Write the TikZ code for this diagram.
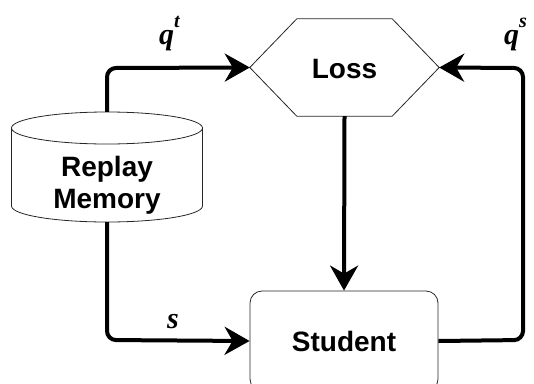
\documentclass[tikz,border=0pt]{standalone}
\usepackage{fontspec}
\setmainfont{Liberation Sans}
\newfontfamily\lblserif{Liberation Serif}
\usetikzlibrary{arrows.meta,calc}
\newcommand{\mysup}[1]{\raisebox{17pt}{\fontsize{20}{20}\selectfont #1}}
\tikzset{
  flow/.style={line width=4pt, rounded corners=9pt, -{Stealth[length=25pt,width=28pt,inset=8pt]}},
  border/.style={draw=black!85, line width=0.8pt},
  lbl/.style={font=\fontsize{28}{32}\selectfont\bfseries},
  mlbl/.style={font=\fontsize{30}{34}\selectfont\lblserif\bfseries\itshape, inner sep=0pt, anchor=base west},
}
\begin{document}
\begin{tikzpicture}[x=1pt,y=-1pt]
\useasboundingbox (0,0) rectangle (534,383);
\clip (0,0) rectangle (534,383);
% Loss hexagon
\node[minimum width=189pt, minimum height=97pt, inner sep=0pt] (loss) at (344.5,67.5) {};
\draw[border] (loss.west) -- ($(loss.north west)+(47,0)$) -- ($(loss.north east)+(-47,0)$) -- (loss.east) -- ($(loss.south east)+(-47,0)$) -- ($(loss.south west)+(47,0)$) -- cycle;
\node[lbl] (losstxt) at (344.5,69) {Loss};
% Replay memory cylinder
\node[minimum width=191pt, minimum height=110pt, inner sep=0pt] (mem) at (107,167) {};
\draw[border] (11.5,128) arc[start angle=180,end angle=360,x radius=95.5,y radius=16] -- (202.5,206) arc[start angle=0,end angle=180,x radius=95.5,y radius=16] -- cycle;
\draw[border] (11.5,128) arc[start angle=180,end angle=0,x radius=95.5,y radius=16];
\node[lbl, align=center, inner sep=0pt] (memtxt) at (107,185) {Replay\\Memory};
% Student
\node[border, rounded corners=12pt, minimum width=188pt, minimum height=100pt, inner sep=0pt] (stu) at (344,341) {};
\node[lbl] (stutxt) at (344,341) {Student};
% connectors
\coordinate (c1) at (107,68);
\coordinate (c2) at (107,340);
\coordinate (c3) at (523,340);
\coordinate (c4) at (523,68);
\draw[flow] (mem.north) -- (c1) -- (loss.west);
\draw[flow] (mem.south) -- (c2) -- (stu.west);
\draw[flow, rounded corners=0pt] (loss.south) -- (stu.north);
\draw[flow] (stu.east) -- (c3) -- (c4) -- (loss.east);
% labels
\node[mlbl] (qt) at (159,44) {q\mysup{t}};
\node[mlbl] (qs) at (504,44) {q\mysup{s}};
\node[mlbl] (s) at (167,328) {s};
\end{tikzpicture}
\end{document}
